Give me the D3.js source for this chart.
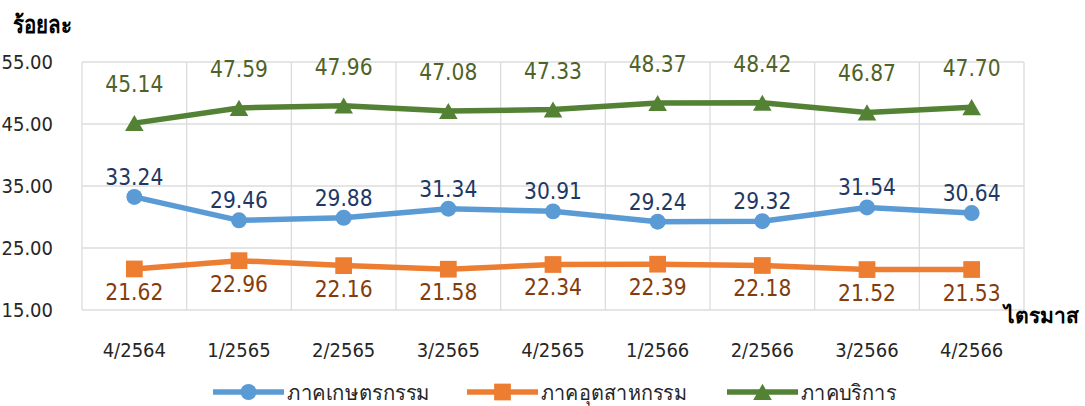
<!DOCTYPE html>
<html><head><meta charset="utf-8">
<script src="https://cdn.jsdelivr.net/npm/d3@7"></script>
<style>body{margin:0;background:#fff;} text{font-family:"DejaVu Sans Condensed","DejaVu Sans",sans-serif;font-stretch:condensed;}</style>
</head><body>
<svg id="c" width="1085" height="406"></svg>
<script>
const categories = ["4/2564","1/2565","2/2565","3/2565","4/2565","1/2566","2/2566","3/2566","4/2566"];
const agriculture = [33.24,29.46,29.88,31.34,30.91,29.24,29.32,31.54,30.64];
const industry = [21.62,22.96,22.16,21.58,22.34,22.39,22.18,21.52,21.53];
const services = [45.14,47.59,47.96,47.08,47.33,48.37,48.42,46.87,47.70];
const yTicks = [15,25,35,45,55];
const seriesNames = ["ภาคเกษตรกรรม","ภาคอุตสาหกรรม","ภาคบริการ"];

const svg = d3.select("#c");
const L=82,R=1024,T=62,B=310;
const x = d3.scaleBand().domain(categories).range([L,R]);
const y = d3.scaleLinear().domain([15,55]).range([B,T]);

// gridlines
svg.append("g").selectAll("line").data(yTicks).join("line")
 .attr("x1",L).attr("x2",R).attr("y1",d=>y(d)).attr("y2",d=>y(d))
 .attr("stroke","#dcdcdc").attr("stroke-width",1.3);
svg.append("g").selectAll("line").data(d3.range(categories.length+1)).join("line")
 .attr("x1",i=>L+i*x.bandwidth()).attr("x2",i=>L+i*x.bandwidth()).attr("y1",T).attr("y2",B)
 .attr("stroke","#dcdcdc").attr("stroke-width",1.3);

// y tick labels
svg.append("g").selectAll("text").data(yTicks).join("text")
 .attr("x",53).attr("y",d=>y(d)+7).attr("text-anchor","end")
 .attr("font-size",20).attr("fill","#262626").text(d=>d.toFixed(2));
// x labels
svg.append("g").selectAll("text").data(categories).join("text")
 .attr("x",d=>x(d)+x.bandwidth()/2).attr("y",357).attr("text-anchor","middle")
 .attr("font-size",20).attr("fill","#262626").text(d=>d);

svg.append("text").attr("x",13).attr("y",33).attr("font-size",24).attr("font-weight","bold")
 .attr("textLength",59).attr("lengthAdjust","spacingAndGlyphs").attr("fill","#000").text("ร้อยละ");
svg.append("text").attr("x",1079).attr("y",323).attr("font-size",21).attr("font-weight","bold")
 .attr("text-anchor","end").attr("fill","#000").text("ไตรมาส");

const cx = d=>x(d)+x.bandwidth()/2;
const series = [
 {name:seriesNames[0],vals:agriculture,color:"#5b9bd5",lab:"#1f3864",dy:-12,shape:"circle"},
 {name:seriesNames[1],vals:industry,color:"#ed7d31",lab:"#843c0c",dy:31,shape:"square"},
 {name:seriesNames[2],vals:services,color:"#548235",lab:"#4f6228",dy:-31,shape:"triangle"}
];
const sym = {circle:d3.symbolCircle,square:d3.symbolSquare,triangle:d3.symbolTriangle};
const size = {circle:200,square:280,triangle:150};
const off = {circle:0,square:0,triangle:2.6};
const line = d3.line().x(d=>cx(d[0])).y(d=>y(d[1]));
series.forEach(s=>{
 const pts = categories.map((c,i)=>[c,s.vals[i]]);
 svg.append("path").datum(pts).attr("d",line).attr("fill","none").attr("stroke",s.color).attr("stroke-width",5.5).attr("stroke-linejoin","round");
 svg.append("g").selectAll("path").data(pts).join("path")
  .attr("transform",d=>`translate(${cx(d[0])},${y(d[1])+off[s.shape]})`)
  .attr("d",d3.symbol().type(sym[s.shape]).size(size[s.shape])).attr("fill",s.color);
 svg.append("g").selectAll("text").data(pts).join("text")
  .attr("x",d=>cx(d[0])).attr("y",d=>y(d[1])+s.dy).attr("text-anchor","middle")
  .attr("font-size",22.5).attr("fill",s.lab).text(d=>d[1].toFixed(2));
});

// legend
const lx=[213,467,727], tw=[143,146,95];
series.forEach((s,i)=>{
 const g=svg.append("g").attr("transform",`translate(${lx[i]},392)`);
 g.append("line").attr("x1",0).attr("x2",71).attr("stroke",s.color).attr("stroke-width",5.5);
 g.append("path").attr("transform",`translate(35.5,${off[s.shape]})`).attr("d",d3.symbol().type(sym[s.shape]).size(size[s.shape])).attr("fill",s.color);
 g.append("text").attr("x",74).attr("y",8).attr("font-size",21)
  .attr("textLength",tw[i]).attr("lengthAdjust","spacingAndGlyphs").attr("fill","#262626").text(s.name);
});
</script>
</body></html>
